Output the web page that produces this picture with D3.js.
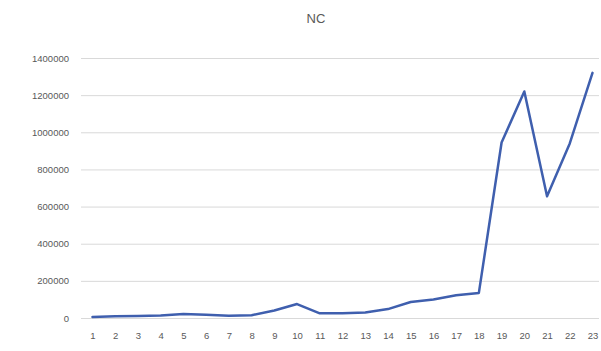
<!DOCTYPE html>
<html>
<head>
<meta charset="utf-8">
<script src="https://cdn.jsdelivr.net/npm/d3@7/dist/d3.min.js"></script>
<style>
  html, body { margin: 0; padding: 0; background: #fff; }
  svg { display: block; }
</style>
</head>
<body>
<svg id="chart" width="601" height="351"></svg>
<script>
// Series: NC, one value per period 1..23
const categories = d3.range(1, 24).map(String);
const values = [5000, 9000, 11000, 13000, 22000, 17000, 12000, 15000, 40000, 75000,
                25000, 26000, 30000, 48000, 86000, 100000, 122000, 135000,
                945000, 1220000, 655000, 940000, 1320000];
const yTicks = [0, 200000, 400000, 600000, 800000, 1000000, 1200000, 1400000];
const title = "NC";

const svg = d3.select("#chart");
const margin = { top: 58, right: -3, bottom: 33, left: 81 };
const W = 601, H = 351;

const x = d3.scalePoint()
  .domain(categories)
  .range([margin.left + 11.5, W - margin.right - 11.5]);

const y = d3.scaleLinear()
  .domain([0, 1400000])
  .range([H - margin.bottom, margin.top]);

// Title
svg.append("text")
  .attr("x", 316).attr("y", 23)
  .attr("text-anchor", "middle")
  .attr("font-family", "Liberation Sans, Arial, sans-serif")
  .attr("font-size", 13)
  .attr("fill", "#595959")
  .text(title);

// Gridlines and y labels
const yAxis = d3.axisLeft(y)
  .tickValues(yTicks)
  .tickSize(-(W - margin.left - 2))
  .tickPadding(12)
  .tickFormat(d3.format("d"));

const gy = svg.append("g")
  .attr("transform", `translate(${margin.left},0)`)
  .call(yAxis);
gy.select(".domain").remove();
gy.selectAll(".tick line").attr("stroke", "#d9d9d9").attr("stroke-width", 1);
gy.selectAll(".tick text")
  .attr("font-family", "Liberation Sans, Arial, sans-serif")
  .attr("font-size", 9.5)
  .attr("fill", "#595959");

// X labels
const xAxis = d3.axisBottom(x).tickSize(0).tickPadding(14);
const gx = svg.append("g")
  .attr("transform", `translate(0,${y(0)})`)
  .call(xAxis);
gx.select(".domain").remove();
gx.selectAll(".tick text")
  .attr("font-family", "Liberation Sans, Arial, sans-serif")
  .attr("font-size", 9.5)
  .attr("fill", "#595959");

// Line
const line = d3.line()
  .x((d, i) => x(categories[i]))
  .y(d => y(d));

svg.append("path")
  .datum(values)
  .attr("fill", "none")
  .attr("stroke", "#3f5fae")
  .attr("stroke-width", 2.5)
  .attr("stroke-linejoin", "round")
  .attr("stroke-linecap", "round")
  .attr("d", line);
</script>
</body>
</html>
